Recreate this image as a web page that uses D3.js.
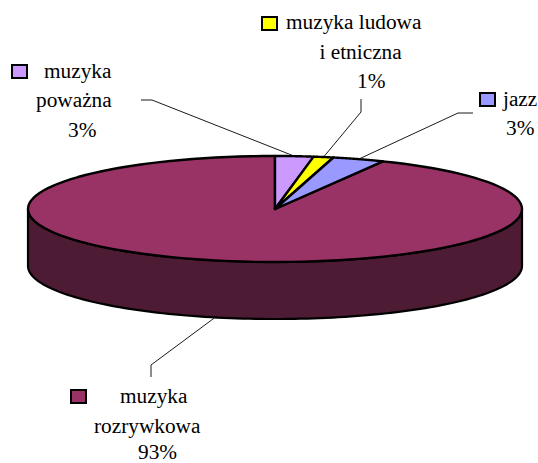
<!DOCTYPE html>
<html>
<head>
<meta charset="utf-8">
<script src="https://cdn.jsdelivr.net/npm/d3@7"></script>
<style>html,body{margin:0;padding:0;background:#fff}svg{display:block}</style>
</head>
<body>
<script>
const categories = ["muzyka poważna", "muzyka ludowa i etniczna", "jazz", "muzyka rozrywkowa"];
const values = [2.5, 1.3, 3.4, 92.8];
const percentLabels = ["3%", "1%", "3%", "93%"];
const colors = ["#CC99FF", "#FFFF00", "#9999FF", "#993366"];
const wallColor = "#4D1B33";

const W = 538, H = 463;
const cx = 275, cy = 209, rx = 247, ry = 53, depth = 57;
const svg = d3.select("body").append("svg").attr("width", W).attr("height", H);

const pie = d3.pie().sort(null).value(d => d)(values);
const px = d3.scaleLinear().domain([-1, 1]).range([cx - rx, cx + rx]);
const py = d3.scaleLinear().domain([-1, 1]).range([cy - ry, cy + ry]);
const project = (a, dz = 0) => [px(Math.sin(a)), py(-Math.cos(a)) + dz];
const samples = (a0, a1) => d3.range(0, 121).map(i => a0 + (a1 - a0) * i / 120);
const line = d3.line();

// side wall of the largest slice (visible front half)
const front = samples(Math.PI / 2, 3 * Math.PI / 2);
const wall = front.map(a => project(a)).concat(front.slice().reverse().map(a => project(a, depth)));
svg.append("path").attr("d", line(wall) + "Z")
  .attr("fill", wallColor)
  .attr("stroke", "#000").attr("stroke-width", 2.2).attr("stroke-linejoin", "round");

// top face, biggest slice first so small wedge outlines sit on top
const order = [3, 0, 1, 2];
order.forEach(i => {
  const s = pie[i];
  const pts = [[cx, cy]].concat(samples(s.startAngle, s.endAngle).map(a => project(a)));
  svg.append("path").attr("d", line(pts) + "Z")
    .attr("fill", colors[i]).attr("stroke", "#000")
    .attr("stroke-width", 2.4).attr("stroke-linejoin", "round");
});

// leader lines: label end, elbow, then the slice anchor from the projection
const mid = i => (pie[i].startAngle + pie[i].endAngle) / 2;
const leaders = [
  { from: [141, 100], elbow: [152, 100], to: project(mid(0)) },
  { from: [361, 99], elbow: [361, 112], to: project(mid(1)) },
  { from: [473, 113], elbow: [458, 113], to: project(mid(2)) },
  { from: [151, 377], elbow: [151, 365], to: [217, 316] }
];
leaders.forEach(l => {
  svg.append("path").attr("d", line([l.from, l.elbow, l.to]))
    .attr("fill", "none").attr("stroke", "#000").attr("stroke-width", 0.9);
});

// labels
const labels = [
  { key: [12, 65, 15, 13], lines: [["muzyka", 44, 78], ["poważna", 36, 107], [percentLabels[0], 68, 137]] },
  { key: [262, 17, 15, 13], lines: [["muzyka ludowa", 286, 29], ["i etniczna", 319.5, 59], [percentLabels[1], 357, 88]] },
  { key: [480, 93, 15, 13], lines: [["jazz", 503, 106], [percentLabels[2], 506, 135]] },
  { key: [71, 390, 15, 13], lines: [["muzyka", 120, 403], ["rozrywkowa", 94, 433], [percentLabels[3], 138, 458.5]] }
];
labels.forEach((l, i) => {
  svg.append("rect").attr("x", l.key[0]).attr("y", l.key[1]).attr("width", l.key[2]).attr("height", l.key[3])
    .attr("fill", colors[i]).attr("stroke", "#000").attr("stroke-width", 2);
  l.lines.forEach(t => {
    svg.append("text").attr("x", t[1]).attr("y", t[2]).text(t[0])
      .attr("font-family", "'Liberation Serif', serif").attr("font-size", 21.3).attr("fill", "#000");
  });
});
</script>
</body>
</html>
